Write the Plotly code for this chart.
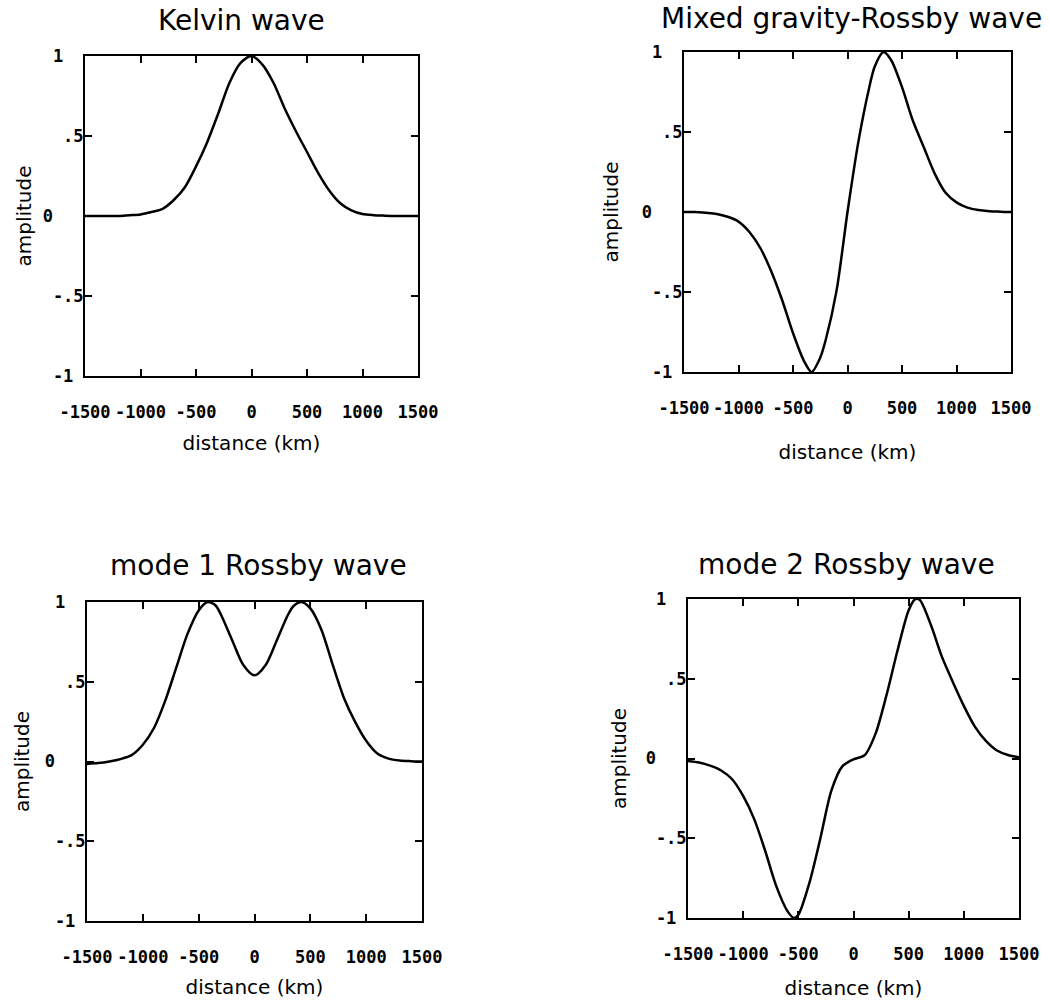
import plotly.graph_objects as go

# ---------------- data ----------------
x_kelvin = [-1500, -1400, -1300, -1200, -1100, -1000, -900, -800, -700, -600, -500, -400, -300,
            -200, -100, 0, 100, 200, 300, 400, 500, 600, 700, 800, 900, 1000, 1100, 1200, 1300,
            1400, 1500]
amp_kelvin = [0.0, 0.0, 0.0, 0.0, 0.005, 0.01, 0.025, 0.045, 0.10, 0.18, 0.31, 0.46, 0.64,
              0.83, 0.955, 1.0, 0.945, 0.83, 0.67, 0.53, 0.40, 0.27, 0.16, 0.08, 0.035, 0.012,
              0.005, 0.002, 0.0, 0.0, 0.0]

x_mixed = [-1500, -1400, -1300, -1200, -1100, -1000, -900, -800, -700, -600, -500, -400, -330,
           -250, -200, -100, 0, 100, 200, 250, 330, 400, 500, 600, 700, 800, 900, 1000, 1100,
           1200, 1300, 1400, 1500]
amp_mixed = [0.0, 0.0, -0.005, -0.012, -0.03, -0.06, -0.125, -0.225, -0.37, -0.55, -0.757, -0.93,
             -1.0, -0.91, -0.80, -0.49, 0.0, 0.44, 0.78, 0.91, 1.0, 0.95, 0.78, 0.57, 0.405,
             0.24, 0.12, 0.06, 0.027, 0.012, 0.005, 0.002, 0.0]

x_rossby1 = [-1500, -1400, -1300, -1200, -1100, -1000, -900, -800, -700, -600, -500, -420, -350,
             -300, -200, -100, 0, 100, 200, 300, 350, 420, 500, 600, 700, 800, 900, 1000, 1100,
             1200, 1300, 1400, 1500]
amp_rossby1 = [-0.015, -0.01, 0.0, 0.015, 0.04, 0.105, 0.21, 0.38, 0.59, 0.80, 0.947, 1.0, 0.98,
               0.92, 0.76, 0.605, 0.54, 0.605, 0.76, 0.92, 0.975, 1.0, 0.96, 0.825, 0.607, 0.40,
               0.25, 0.13, 0.05, 0.018, 0.006, 0.002, 0.0]

x_rossby2 = [-1500, -1400, -1300, -1200, -1100, -1000, -900, -800, -700, -600, -540, -500, -400,
             -300, -200, -100, 0, 100, 200, 300, 400, 500, 560, 600, 700, 800, 900, 1000, 1100,
             1200, 1300, 1400, 1500]
amp_rossby2 = [-0.015, -0.025, -0.045, -0.075, -0.13, -0.235, -0.38, -0.58, -0.80, -0.955, -1.0,
               -0.98, -0.78, -0.50, -0.20, -0.048, -0.005, 0.02, 0.156, 0.40, 0.68, 0.93, 1.0,
               0.995, 0.84, 0.64, 0.48, 0.33, 0.20, 0.11, 0.05, 0.022, 0.008]

panel_titles = ["Kelvin wave", "Mixed gravity-Rossby wave",
                "mode 1 Rossby wave", "mode 2 Rossby wave"]
x_tickvals = [-1500, -1000, -500, 0, 500, 1000, 1500]
x_ticktext = ["-1500", "-1000", "-500", "0", "500", "1000", "1500"]
y_tickvals = [-1, -0.5, 0, 0.5, 1]
y_ticktext = ["-1\u00a0", "-.5", "0\u00a0\u00a0\u00a0", ".5", "1\u00a0\u00a0"]
x_title = "distance (km)"
y_title = "amplitude"

# ---------------- layout geometry (pixels) ----------------
W, H = 1050, 1003
# (left, right, top, bottom) of each plot box
boxes = [(85, 418, 56, 376), (684, 1011, 52, 372), (87, 422, 602, 921), (688, 1019, 599, 918)]
title_pos = [(241, 20), (851, 18), (258, 565), (846, 564)]
ytitle_standoff = [6, 18, 10, 14]
xtitle_standoff = [15, 28, 14, 18]

series = [(x_kelvin, amp_kelvin), (x_mixed, amp_mixed),
          (x_rossby1, amp_rossby1), (x_rossby2, amp_rossby2)]

fig = go.Figure()
layout = dict(width=W, height=H, margin=dict(l=0, r=0, t=0, b=0),
              paper_bgcolor="white", plot_bgcolor="white", showlegend=False,
              annotations=[])

tick_font = dict(family="DejaVu Sans Mono", size=17, color="black", weight="bold")
title_font = dict(family="DejaVu Sans", size=20, color="black")

for i, ((xs, ys), (l, r, t, b)) in enumerate(zip(series, boxes)):
    n = "" if i == 0 else str(i + 1)
    fig.add_trace(go.Scatter(x=xs, y=ys, mode="lines",
                             line=dict(color="black", width=2.5, shape="spline", smoothing=0.8),
                             xaxis="x" + n, yaxis="y" + n, hoverinfo="skip"))
    layout["xaxis" + n] = dict(
        domain=[l / W, r / W], anchor="y" + n, range=[-1500, 1500], automargin=False,
        tickmode="array", tickvals=x_tickvals, ticktext=x_ticktext,
        ticks="inside", ticklen=7, tickwidth=2, tickcolor="black",
        showline=True, linewidth=2, linecolor="black", mirror="ticks",
        showgrid=False, zeroline=False, tickfont=tick_font, ticklabelstandoff=20,
        title=dict(text=x_title, font=title_font, standoff=xtitle_standoff[i]))
    layout["yaxis" + n] = dict(
        domain=[1 - b / H, 1 - t / H], anchor="x" + n, range=[-1, 1], automargin=False,
        tickmode="array", tickvals=y_tickvals, ticktext=y_ticktext,
        ticks="inside", ticklen=7, tickwidth=2, tickcolor="black",
        showline=True, linewidth=2, linecolor="black", mirror="ticks",
        showgrid=False, zeroline=False, tickfont=tick_font, ticklabelstandoff=-4,
        title=dict(text=y_title, font=title_font, standoff=ytitle_standoff[i]))
    tx, ty = title_pos[i]
    layout["annotations"].append(dict(
        text=panel_titles[i], x=tx / W, y=1 - ty / H, xref="paper", yref="paper",
        xanchor="center", yanchor="middle", showarrow=False,
        font=dict(family="DejaVu Sans", size=28, color="black")))

fig.update_layout(**layout)
fig.write_html("out.html")
